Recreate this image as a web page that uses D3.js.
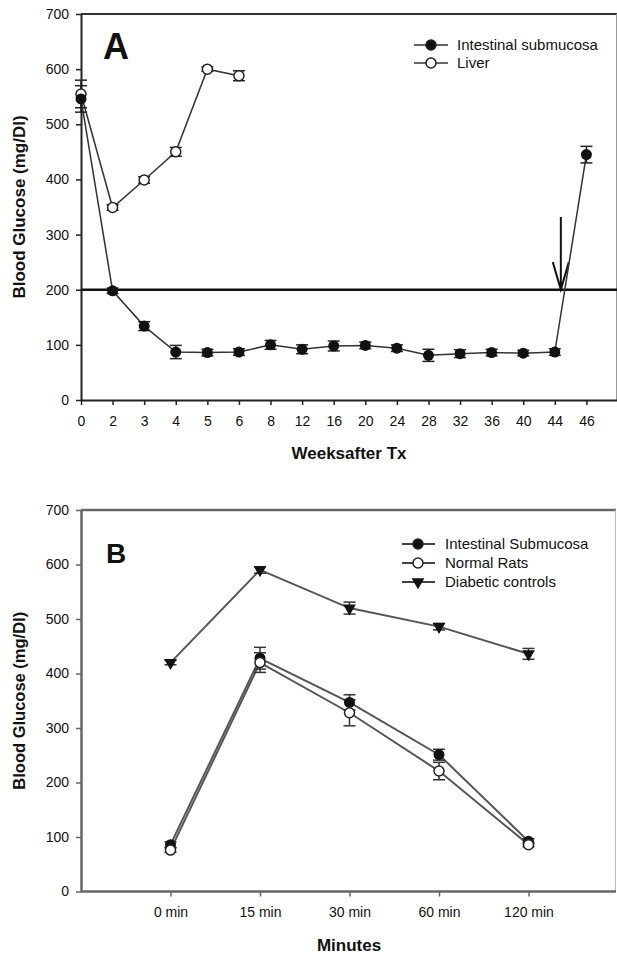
<!DOCTYPE html>
<html>
<head>
<meta charset="utf-8">
<script src="https://cdn.jsdelivr.net/npm/d3@7"></script>
<style>
  body { margin: 0; background: #fff; }
  text { font-family: "Liberation Sans", Arial, sans-serif; fill: #111; }
</style>
</head>
<body>
<script>
// Panel A data
const weeks = ["0", "2", "3", "4", "5", "6", "8", "12", "16", "20", "24", "28", "32", "36", "40", "44", "46"];
const submucosaA = [546, 198, 134, 87, 86, 87, 100, 92, 98, 99, 94, 81, 84, 86, 85, 87, 445];
const submucosaAErr = [24, 5, 8, 12, 6, 6, 8, 8, 9, 6, 6, 11, 7, 6, 5, 6, 15];
const liverA = [555, 349, 399, 450, 600, 588];
const liverAErr = [25, 5, 6, 8, 4, 9];

// Panel B data
const minutes = ["0 min", "15 min", "30 min", "60 min", "120 min"];
const submucosaB = [86, 428, 347, 251, 92];
const submucosaBErr = [5, 20, 14, 10, 5];
const normalB = [76, 420, 328, 221, 86];
const normalBErr = [4, 18, 24, 16, 4];
const diabeticB = [420, 590, 520, 486, 436];
const diabeticBErr = [4, 6, 11, 6, 10];

const yTicks = [0, 100, 200, 300, 400, 500, 600, 700];

const svg = d3.select("body").append("svg")
    .attr("width", 617)
    .attr("height", 956);

// ---------------- Panel A ----------------
const xA = d3.scaleLinear().domain([0, 17]).range([81, 618]);
const yA = d3.scaleLinear().domain([0, 700]).range([400, 14]);

const gA = svg.append("g");

// frame top + right
gA.append("line").attr("x1", 81).attr("x2", 617).attr("y1", yA(700)).attr("y2", yA(700))
  .attr("stroke", "#333").attr("stroke-width", 2);
gA.append("line").attr("x1", 616.5).attr("x2", 616.5).attr("y1", yA(700)).attr("y2", yA(0))
  .attr("stroke", "#999").attr("stroke-width", 1);

const axA = gA.append("g")
  .attr("transform", `translate(0,${yA(0)})`)
  .call(d3.axisBottom(xA).tickValues(d3.range(weeks.length)).tickFormat(i => weeks[i])
        .tickSize(5).tickSizeOuter(0).tickPadding(11));
const ayA = gA.append("g")
  .attr("transform", `translate(${xA(0)},0)`)
  .call(d3.axisLeft(yA).tickValues(yTicks).tickSize(5).tickSizeOuter(0).tickPadding(7));
[axA, ayA].forEach(a => {
  a.select(".domain").attr("stroke", "#222").attr("stroke-width", 2);
  a.selectAll(".tick line").attr("stroke", "#222").attr("stroke-width", 1.5);
  a.selectAll(".tick text").style("font-size", "14px").attr("fill", "#111");
});

// 200 mg/dl threshold line
gA.append("line").attr("x1", xA(0)).attr("x2", 617).attr("y1", yA(200)).attr("y2", yA(200))
  .attr("stroke", "#111").attr("stroke-width", 2.5);

// arrow (graft removal)
const arrowX = xA(15) + 6;
gA.append("path")
  .attr("d", `M${arrowX},${yA(332)}L${arrowX},${yA(200)}M${arrowX - 8},${yA(250)}L${arrowX},${yA(200)}L${arrowX + 8},${yA(250)}`)
  .attr("fill", "none").attr("stroke", "#111").attr("stroke-width", 2);

function errorBars(g, vals, errs, xs, ys, color, cap) {
  vals.forEach((v, i) => {
    const x = xs(i);
    g.append("line").attr("x1", x).attr("x2", x).attr("y1", ys(v - errs[i])).attr("y2", ys(v + errs[i]))
      .attr("stroke", color).attr("stroke-width", 1.5);
    [v - errs[i], v + errs[i]].forEach(e => {
      g.append("line").attr("x1", x - cap).attr("x2", x + cap).attr("y1", ys(e)).attr("y2", ys(e))
        .attr("stroke", color).attr("stroke-width", 1.5);
    });
  });
}

const lineA = d3.line().x((d, i) => xA(i)).y(d => yA(d));

gA.append("path").datum(liverA).attr("d", lineA)
  .attr("fill", "none").attr("stroke", "#333").attr("stroke-width", 1.5);
gA.append("path").datum(submucosaA).attr("d", lineA)
  .attr("fill", "none").attr("stroke", "#333").attr("stroke-width", 1.5);

errorBars(gA, liverA, liverAErr, xA, yA, "#222", 6);
errorBars(gA, submucosaA, submucosaAErr, xA, yA, "#222", 6);

gA.selectAll(".liver").data(liverA).enter().append("circle")
  .attr("cx", (d, i) => xA(i)).attr("cy", d => yA(d)).attr("r", 5)
  .attr("fill", "#fff").attr("stroke", "#222").attr("stroke-width", 1.5);
gA.selectAll(".sub").data(submucosaA).enter().append("circle")
  .attr("cx", (d, i) => xA(i)).attr("cy", d => yA(d)).attr("r", 5.5)
  .attr("fill", "#111");

// panel letter
gA.append("text").attr("x", 103).attr("y", 59).text("A")
  .style("font-size", "36px").style("font-weight", "bold");

// axis titles
gA.append("text").attr("x", 349).attr("y", 459).attr("text-anchor", "middle")
  .text("Weeksafter Tx").style("font-size", "17px").style("font-weight", "bold");
gA.append("text").attr("transform", `translate(25,${(yA(0) + yA(700)) / 2}) rotate(-90)`)
  .attr("text-anchor", "middle").text("Blood Glucose (mg/Dl)")
  .style("font-size", "17px").style("font-weight", "bold");

// legend A
const legA = [{ name: "Intestinal submucosa", fill: "#111" }, { name: "Liver", fill: "#fff" }];
legA.forEach((d, i) => {
  const ly = 45 + i * 18;
  gA.append("line").attr("x1", 414).attr("x2", 448).attr("y1", ly).attr("y2", ly)
    .attr("stroke", "#333").attr("stroke-width", 1.5);
  gA.append("circle").attr("cx", 431).attr("cy", ly).attr("r", 5)
    .attr("fill", d.fill).attr("stroke", "#222").attr("stroke-width", 1.5);
  gA.append("text").attr("x", 457).attr("y", ly + 5).text(d.name).style("font-size", "15px");
});

// ---------------- Panel B ----------------
const xB = d3.scaleLinear().domain([-1, 5]).range([81, 618]);
const yB = d3.scaleLinear().domain([0, 700]).range([891.5, 510]);

const gB = svg.append("g");

gB.append("line").attr("x1", 81).attr("x2", 616).attr("y1", yB(700)).attr("y2", yB(700))
  .attr("stroke", "#666").attr("stroke-width", 2.5);
gB.append("line").attr("x1", 615.5).attr("x2", 615.5).attr("y1", yB(700)).attr("y2", yB(0))
  .attr("stroke", "#bbb").attr("stroke-width", 1);

const axB = gB.append("g")
  .attr("transform", `translate(0,${yB(0)})`)
  .call(d3.axisBottom(xB).tickValues(d3.range(minutes.length)).tickFormat(i => minutes[i])
        .tickSize(5).tickSizeOuter(0).tickPadding(11));
const ayB = gB.append("g")
  .attr("transform", `translate(${xB(-1)},0)`)
  .call(d3.axisLeft(yB).tickValues(yTicks).tickSize(5).tickSizeOuter(0).tickPadding(7));
axB.select(".domain").attr("d", `M${xB(-1)},0H616`);
[axB, ayB].forEach(a => {
  a.select(".domain").attr("stroke", "#666").attr("stroke-width", 2.5);
  a.selectAll(".tick line").attr("stroke", "#666").attr("stroke-width", 1.5);
  a.selectAll(".tick text").style("font-size", "14px").attr("fill", "#111");
});

const lineB = d3.line().x((d, i) => xB(i)).y(d => yB(d));
[diabeticB, normalB, submucosaB].forEach(s => {
  gB.append("path").datum(s).attr("d", lineB)
    .attr("fill", "none").attr("stroke", "#555").attr("stroke-width", 2);
});

errorBars(gB, diabeticB, diabeticBErr, xB, yB, "#333", 6);
errorBars(gB, submucosaB, submucosaBErr, xB, yB, "#333", 6);
errorBars(gB, normalB, normalBErr, xB, yB, "#333", 6);

const tri = d3.symbol().type(d3.symbolTriangle).size(70);
gB.selectAll(".diab").data(diabeticB).enter().append("path")
  .attr("d", tri)
  .attr("transform", (d, i) => `translate(${xB(i)},${yB(d)}) rotate(180)`)
  .attr("fill", "#111");
gB.selectAll(".subB").data(submucosaB).enter().append("circle")
  .attr("cx", (d, i) => xB(i)).attr("cy", d => yB(d)).attr("r", 5.5)
  .attr("fill", "#111");
gB.selectAll(".norm").data(normalB).enter().append("circle")
  .attr("cx", (d, i) => xB(i)).attr("cy", d => yB(d)).attr("r", 5)
  .attr("fill", "#fff").attr("stroke", "#222").attr("stroke-width", 1.5);

gB.append("text").attr("x", 106).attr("y", 563).text("B")
  .style("font-size", "28px").style("font-weight", "bold");

gB.append("text").attr("x", 349).attr("y", 951).attr("text-anchor", "middle")
  .text("Minutes").style("font-size", "17px").style("font-weight", "bold");
gB.append("text").attr("transform", `translate(25,${(yB(0) + yB(700)) / 2}) rotate(-90)`)
  .attr("text-anchor", "middle").text("Blood Glucose (mg/Dl)")
  .style("font-size", "16.5px").style("font-weight", "bold");

// legend B
const legB = [
  { name: "Intestinal Submucosa", shape: "circle", fill: "#111" },
  { name: "Normal Rats", shape: "circle", fill: "#fff" },
  { name: "Diabetic controls", shape: "tri", fill: "#111" }
];
legB.forEach((d, i) => {
  const ly = 544 + i * 19;
  gB.append("line").attr("x1", 402).attr("x2", 435).attr("y1", ly).attr("y2", ly)
    .attr("stroke", "#444").attr("stroke-width", 2);
  if (d.shape === "tri") {
    gB.append("path").attr("d", tri).attr("transform", `translate(418,${ly}) rotate(180)`).attr("fill", "#111");
  } else {
    gB.append("circle").attr("cx", 418).attr("cy", ly).attr("r", 5)
      .attr("fill", d.fill).attr("stroke", "#222").attr("stroke-width", 1.5);
  }
  gB.append("text").attr("x", 445).attr("y", ly + 5).text(d.name).style("font-size", "15px");
});
</script>
</body>
</html>
